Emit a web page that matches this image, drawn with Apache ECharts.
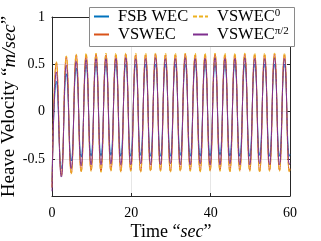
<!DOCTYPE html>
<html>
<head>
<meta charset="utf-8">
<script src="https://cdn.jsdelivr.net/npm/echarts@6/dist/echarts.min.js"></script>
<style>html,body{margin:0;padding:0;background:#fff}#c{width:321px;height:241px}</style>
</head>
<body>
<div id="c"></div>
<script>
// time of each sample (s): start, then alternating peak / trough, then end
const timeSec = [0,
  1.1, 2.35, 3.6, 4.85, 6.1, 7.35, 8.6, 9.85, 11.1, 12.35, 13.6, 14.85,
  16.1, 17.35, 18.6, 19.85, 21.1, 22.35, 23.6, 24.85, 26.1, 27.35, 28.6, 29.85,
  31.1, 32.35, 33.6, 34.85, 36.1, 37.35, 38.6, 39.85, 41.1, 42.35, 43.6, 44.85,
  46.1, 47.35, 48.6, 49.85, 51.1, 52.35, 53.6, 54.85, 56.1, 57.35, 58.6, 59.85,
  60];
const fsbWec = [-0.74,
  0.32, -0.60, 0.40, -0.52, 0.46, -0.48, 0.49, -0.47, 0.50, -0.47, 0.50, -0.46,
  0.50, -0.47, 0.50, -0.47, 0.50, -0.46, 0.50, -0.47, 0.50, -0.47, 0.50, -0.47,
  0.50, -0.46, 0.50, -0.47, 0.50, -0.47, 0.50, -0.47, 0.50, -0.46, 0.50, -0.47,
  0.50, -0.47, 0.50, -0.47, 0.50, -0.46, 0.50, -0.47, 0.50, -0.47, 0.50, -0.47,
  -0.45];
const vswec = [-0.80,
  0.52, -0.67, 0.58, -0.65, 0.60, -0.63, 0.60, -0.62, 0.61, -0.63, 0.60, -0.62,
  0.60, -0.63, 0.61, -0.62, 0.60, -0.63, 0.60, -0.62, 0.61, -0.62, 0.60, -0.63,
  0.60, -0.62, 0.61, -0.62, 0.60, -0.63, 0.60, -0.62, 0.61, -0.62, 0.60, -0.63,
  0.60, -0.62, 0.61, -0.62, 0.60, -0.63, 0.60, -0.62, 0.61, -0.62, 0.60, -0.63,
  -0.60];
const vswec0 = [-0.80,
  0.53, -0.68, 0.59, -0.66, 0.61, -0.64, 0.62, -0.63, 0.62, -0.64, 0.62, -0.63,
  0.62, -0.64, 0.62, -0.63, 0.62, -0.64, 0.62, -0.63, 0.62, -0.63, 0.62, -0.64,
  0.62, -0.63, 0.62, -0.63, 0.62, -0.64, 0.62, -0.63, 0.62, -0.63, 0.62, -0.64,
  0.62, -0.63, 0.62, -0.63, 0.62, -0.64, 0.62, -0.63, 0.62, -0.63, 0.62, -0.64,
  -0.61];
const vswecPi2 = [-0.84,
  0.42, -0.69, 0.49, -0.60, 0.53, -0.57, 0.55, -0.56, 0.56, -0.56, 0.56, -0.55,
  0.56, -0.56, 0.57, -0.56, 0.56, -0.55, 0.56, -0.56, 0.57, -0.56, 0.56, -0.55,
  0.56, -0.56, 0.57, -0.56, 0.56, -0.55, 0.56, -0.56, 0.57, -0.56, 0.56, -0.55,
  0.56, -0.56, 0.57, -0.56, 0.56, -0.55, 0.56, -0.56, 0.57, -0.56, 0.56, -0.56,
  -0.54];
const xTicks = [0, 20, 40, 60];
const yTicks = [-0.5, 0, 0.5, 1];
const seriesNames = ['FSB WEC', 'VSWEC', 'VSWEC0', 'VSWECpi2'];

const FONT = 'Liberation Serif';
const pairs = v => timeSec.map((t, i) => [t, v[i]]);
const legendLabel = {
  'FSB WEC': 'FSB WEC',
  'VSWEC': 'VSWEC',
  'VSWEC0': 'VSWEC{s|0}',
  'VSWECpi2': 'VSWEC{s|π/2}'
};
const legendText = {
  fontFamily: FONT, fontSize: 16.5, color: '#000', padding: [0, 0, 0, 4],
  rich: { s: { fontFamily: FONT, fontSize: 11, verticalAlign: 'top', padding: [0, 0, 6, 0], color: '#000' } }
};
const axisCommonX = { type: 'value', min: 0, max: 60, interval: 20 };
const axisCommonY = { type: 'value', min: -0.89, max: 1, splitNumber: 4, minInterval: 0.5, maxInterval: 0.5 };
const frameLine = { show: true, onZero: false, lineStyle: { color: '#262626', width: 1 } };
const tickStyle = { inside: true, length: 3, lineStyle: { color: '#262626' } };

const chart = echarts.init(document.getElementById('c'), null, { renderer: 'canvas' });
chart.setOption({
  animation: false,
  grid: { left: 52, right: 31, top: 17, bottom: 45, outerBoundsMode: 'none', containLabel: false },
  xAxis: [
    Object.assign({}, axisCommonX, {
      position: 'bottom',
      name: '{t|Time “}{i|sec}{t|”}', nameLocation: 'middle', nameGap: 27, nameMoveOverlap: false,
      nameTextStyle: { rich: { t: { fontFamily: FONT, fontSize: 18, color: '#000' }, i: { fontFamily: FONT, fontSize: 18, fontStyle: 'italic', color: '#000' } } },
      axisLine: frameLine, axisTick: tickStyle,
      axisLabel: { margin: 10, fontFamily: FONT, fontSize: 14, color: '#000',
        formatter: v => xTicks.includes(v) ? String(v) : '' },
      splitLine: { show: true, lineStyle: { color: '#e6e6e6', width: 1 } }
    }),
    Object.assign({}, axisCommonX, {
      position: 'top', axisLine: frameLine, axisTick: tickStyle,
      axisLabel: { show: false }, splitLine: { show: false }
    })
  ],
  yAxis: [
    Object.assign({}, axisCommonY, {
      position: 'left',
      name: '{t|Heave Velocity “}{i|m/sec}{t|”}', nameLocation: 'middle', nameGap: 33, nameMoveOverlap: false,
      nameTextStyle: { rich: { t: { fontFamily: FONT, fontSize: 19, color: '#000' }, i: { fontFamily: FONT, fontSize: 19, fontStyle: 'italic', color: '#000' } } },
      axisLine: frameLine, axisTick: tickStyle,
      axisLabel: { margin: 7, fontFamily: FONT, fontSize: 14, color: '#000',
        showMinLabel: false,
        formatter: v => yTicks.some(t => Math.abs(t - v) < 1e-9) ? String(v) : '' },
      splitLine: { show: true, lineStyle: { color: '#e6e6e6', width: 1 } }
    }),
    Object.assign({}, axisCommonY, {
      position: 'right', axisLine: frameLine, axisTick: tickStyle,
      axisLabel: { show: false }, splitLine: { show: false }
    })
  ],
  graphic: [{
    type: 'rect', z: 50, left: 89, top: 7,
    shape: { width: 205, height: 39 },
    style: { fill: '#fff', stroke: '#8a8a8a', lineWidth: 1 }
  }],
  legend: [
    { data: [seriesNames[0], seriesNames[1]], orient: 'vertical', left: 93, top: 8, padding: 0,
      itemWidth: 15, itemHeight: 10, itemGap: 1, z: 60, textStyle: legendText,
      itemStyle: { opacity: 0 }, formatter: n => legendLabel[n] },
    { data: [seriesNames[2], seriesNames[3]], orient: 'vertical', left: 192, top: 8, padding: 0,
      itemWidth: 15, itemHeight: 10, itemGap: 1, z: 60, textStyle: legendText,
      itemStyle: { opacity: 0 }, formatter: n => legendLabel[n] }
  ],
  series: [
    { name: seriesNames[0], type: 'line', data: pairs(fsbWec), showSymbol: false, symbol: 'none', smooth: 0.5,
      lineStyle: { color: '#0072BD', width: 1 }, itemStyle: { color: '#0072BD' } },
    { name: seriesNames[1], type: 'line', data: pairs(vswec), showSymbol: false, symbol: 'none', smooth: 0.5,
      lineStyle: { color: '#D95319', width: 1 }, itemStyle: { color: '#D95319' } },
    { name: seriesNames[2], type: 'line', data: pairs(vswec0), showSymbol: false, symbol: 'none', smooth: 0.5,
      lineStyle: { color: '#EDB120', width: 1, type: [4, 2] }, itemStyle: { color: '#EDB120' } },
    { name: seriesNames[3], type: 'line', data: pairs(vswecPi2), showSymbol: false, symbol: 'none', smooth: 0.5,
      lineStyle: { color: '#7E2F8E', width: 1 }, itemStyle: { color: '#7E2F8E' } }
  ]
});
</script>
</body>
</html>
